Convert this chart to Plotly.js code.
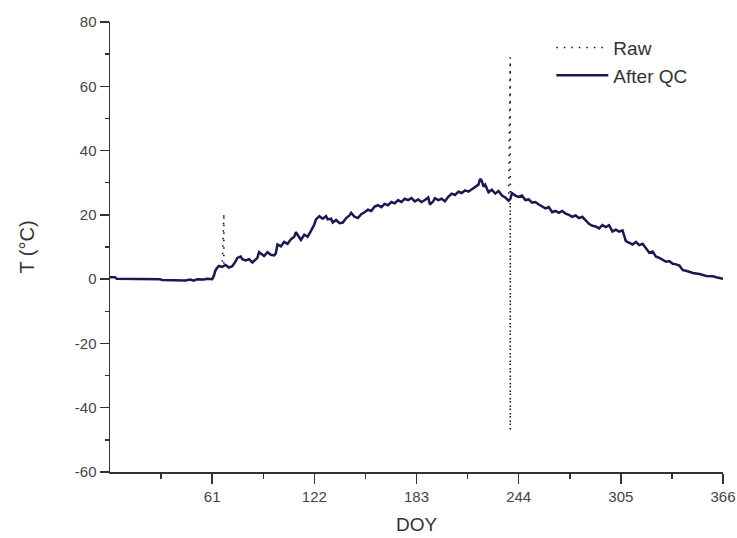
<!DOCTYPE html>
<html>
<head>
<meta charset="utf-8">
<script src="https://cdn.plot.ly/plotly-3.0.1.min.js"></script>
<style>html,body{margin:0;padding:0;background:#fff;}#chart{width:737px;height:538px;}</style>
</head>
<body>
<div id="chart"></div>
<script>
// After-QC temperature series (DOY, °C)
const qcDoy = [0,3,4,10,20,30,31,40,45,48,50,52,56,58,61,62,63,64,65,67,69,71,73,75,76,78,79,81,83,85,87,88,89,90,92,94,96,98,99,
  100,102,104,106,108,110,111,113,114,116,118,120,122,123,125,127,129,130,132,133,135,137,139,141,143,144,146,148,150,152,154,156,158,
  160,162,164,166,168,170,172,174,176,178,180,182,184,186,188,190,191,193,194,196,198,200,202,204,206,208,210,212,214,216,218,220,221,
  222,223,224,226,228,230,232,234,236,238,239,240,242,244,246,248,250,252,254,256,258,260,262,264,266,268,270,272,274,276,278,280,282,
  284,286,288,290,292,294,296,298,300,302,304,306,308,310,312,314,316,318,320,322,324,326,328,330,332,334,336,338,340,342,344,348,352,
  356,360,362,366];
const qcT = [0.6,0.6,0.1,0.1,0.1,0.0,-0.3,-0.3,-0.4,-0.1,-0.5,0.0,-0.1,0.1,0.0,1.0,2.8,3.5,4.1,3.8,4.4,3.6,4.0,5.5,6.6,7.0,6.2,5.8,6.2,5.2,6.0,6.6,8.4,8.0,7.2,8.4,7.6,7.4,8.0,
  10.8,10.2,11.6,11.0,12.4,13.2,14.6,12.8,12.2,13.8,13.2,15.0,17.0,18.6,19.6,18.8,19.6,18.6,18.8,17.6,18.4,17.4,17.6,19.0,19.8,20.6,19.4,19.0,20.2,20.8,21.6,21.2,22.6,
  23.0,22.4,23.4,23.0,24.0,23.6,24.6,24.0,25.0,24.6,25.2,24.2,24.8,24.0,24.6,25.4,23.2,24.2,25.2,24.6,25.0,24.2,25.6,26.6,26.2,27.2,26.8,27.6,27.2,28.0,28.6,29.4,31.2,
  30.6,28.8,29.4,27.0,27.8,26.6,27.4,26.0,25.4,24.4,25.0,26.8,26.0,25.6,26.0,24.6,24.8,23.8,24.0,23.2,22.6,22.0,22.4,20.8,21.2,20.6,21.2,20.4,20.0,19.4,19.8,19.0,19.4,
  18.2,17.2,16.6,16.4,15.8,16.8,16.2,16.8,14.8,15.4,14.8,15.2,11.8,11.2,10.8,11.6,10.6,11.0,9.6,8.2,8.6,7.0,6.6,6.0,5.4,5.6,4.8,4.6,4.2,2.8,2.6,1.9,1.6,
  1.0,0.9,0.6,0.1];

// Raw-only spikes removed by QC (DOY, °C) — each is a vertical excursion
const spikeDoy = [68, 239];
const spikeTop = [20.5, 69];
const spikeBottom = [4.2, -47];

const xTickVals = [61, 122, 183, 244, 305, 366];
const xMinorVals = [30.5, 91.5, 152.5, 213.5, 274.5, 335.5];
const yTickVals = [-60, -40, -20, 0, 20, 40, 60, 80];
const yTickText = ['-60', '-40', '-20', '0', '20', '40', '60', '80'];

// Build the raw series: QC series with spikes inserted
const rawDoy = [], rawT = [];
let s = 0;
for (let i = 0; i < qcDoy.length; i++) {
  while (s < spikeDoy.length && spikeDoy[s] <= qcDoy[i]) {
    rawDoy.push(spikeDoy[s], spikeDoy[s], spikeDoy[s]);
    rawT.push(spikeTop[s], spikeBottom[s], qcT[i]);
    s++;
  }
  rawDoy.push(qcDoy[i]); rawT.push(qcT[i]);
}

const font = 'Arial, "Liberation Sans", sans-serif';
const traces = [
  {x: rawDoy, y: rawT, name: 'Raw', type: 'scatter', mode: 'lines',
   line: {color: '#111', width: 1.5, dash: '1.5px,6px'}},
  {x: qcDoy, y: qcT, name: 'After QC', type: 'scatter', mode: 'lines',
   line: {color: '#1a1a52', width: 2.5}}
];

const layout = {
  width: 737, height: 538,
  margin: {l: 110, r: 14, t: 22, b: 66, pad: 0},
  paper_bgcolor: '#fff', plot_bgcolor: '#fff',
  font: {family: font, color: '#333'},
  showlegend: true,
  legend: {x: 0.72, y: 0.985, xanchor: 'left', yanchor: 'top', bgcolor: 'rgba(0,0,0,0)',
           font: {size: 19, color: '#333'}, tracegroupgap: 0, itemwidth: 52},
  xaxis: {
    range: [0, 366], tickmode: 'array', tickvals: xTickVals, ticktext: xTickVals.map(String),
    ticks: 'outside', ticklen: 10, tickwidth: 1.5, tickcolor: '#333',
    showline: true, linecolor: '#333', linewidth: 1.5, showgrid: false, zeroline: false,
    tickfont: {size: 15, color: '#444'},
    minor: {tickmode: 'array', tickvals: xMinorVals, ticks: 'outside', ticklen: 5, tickwidth: 1.5, tickcolor: '#333', showgrid: false},
    title: {text: 'DOY', font: {size: 19, color: '#333'}, standoff: 14},
    automargin: false
  },
  yaxis: {
    range: [-60, 80], tickmode: 'array', tickvals: yTickVals, ticktext: yTickText,
    ticks: 'outside', ticklen: 9, tickwidth: 1.5, tickcolor: '#333',
    showline: true, linecolor: '#333', linewidth: 1.5, showgrid: false, zeroline: false,
    tickfont: {size: 15, color: '#444'},
    minor: {tickmode: 'linear', tick0: 0, dtick: 10, ticks: 'outside', ticklen: 4, tickwidth: 1.5, tickcolor: '#333', showgrid: false},
    title: {text: 'T (°C)', font: {size: 20, color: '#333'}, standoff: 35},
    automargin: false
  }
};

Plotly.newPlot('chart', traces, layout, {displayModeBar: false, staticPlot: true});
</script>
</body>
</html>
